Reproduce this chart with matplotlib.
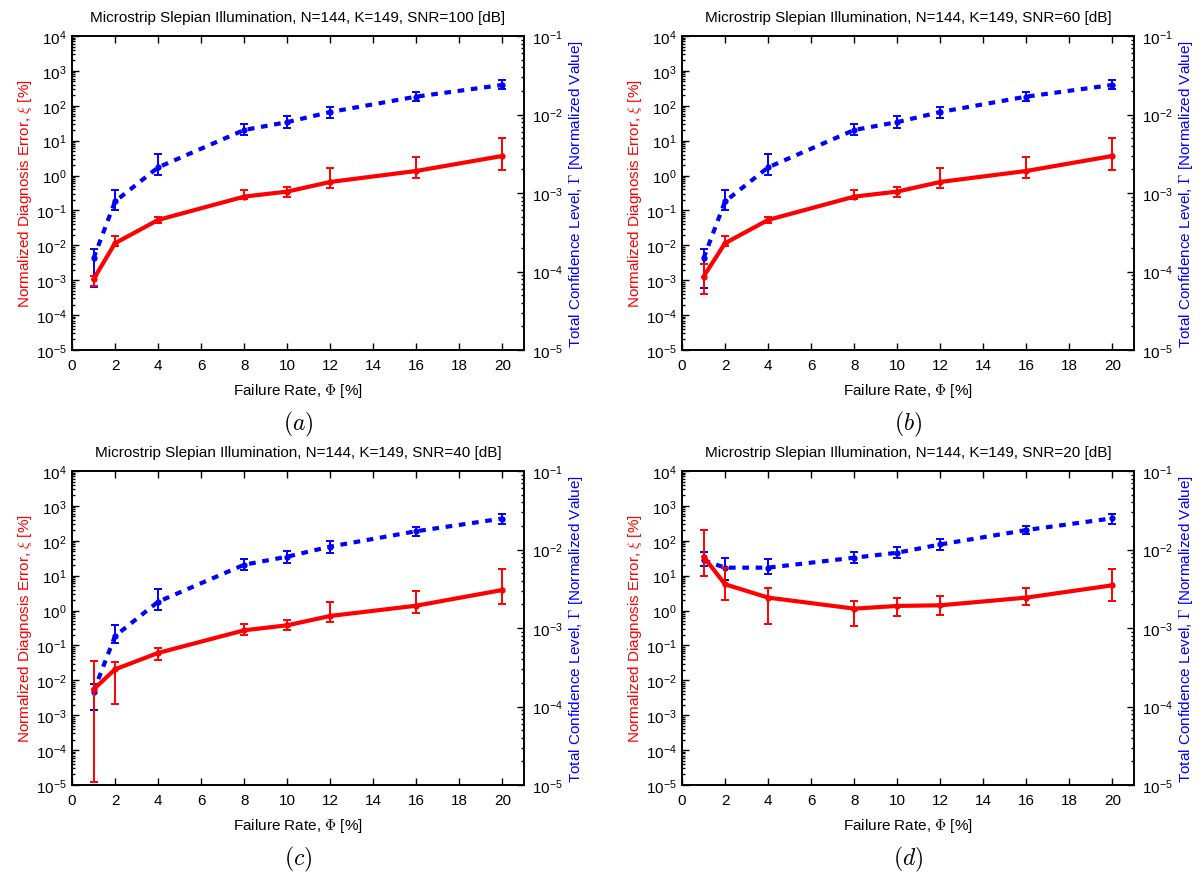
import numpy as np
import matplotlib
matplotlib.use("Agg")
import matplotlib.pyplot as plt
from matplotlib.ticker import LogLocator, NullFormatter, MultipleLocator

plt.rcParams['font.family'] = ['Liberation Sans', 'DejaVu Sans']
plt.rcParams['mathtext.fontset'] = 'cm'

# failure rate (x) shared by all panels
phi = [1, 2, 4, 8, 10, 12, 16, 20]

snr = [100, 60, 40, 20]
tags = ['a', 'b', 'c', 'd']

# normalized diagnosis error xi [%]: value, lower, upper
xi_a = [1.07e-3, 1.15e-2, 5.35e-2, 0.249, 0.347, 0.656, 1.355, 3.65]
xi_a_lo = [7.0e-4, 9.4e-3, 4.5e-2, 0.209, 0.249, 0.45, 0.835, 1.45]
xi_a_hi = [1.3e-3, 1.82e-2, 6.65e-2, 0.386, 0.471, 1.69, 3.48, 12.3]

xi_b = [1.27e-3, 1.15e-2, 5.35e-2, 0.249, 0.347, 0.656, 1.355, 3.65]
xi_b_lo = [3.96e-4, 9.4e-3, 4.5e-2, 0.209, 0.249, 0.45, 0.835, 1.45]
xi_b_hi = [2.87e-3, 1.9e-2, 6.65e-2, 0.386, 0.471, 1.69, 3.48, 12.3]

xi_c = [5.5e-3, 2.07e-2, 6.1e-2, 0.272, 0.378, 0.70, 1.38, 3.89]
xi_c_lo = [1.23e-5, 2.06e-3, 3.85e-2, 0.20, 0.272, 0.482, 0.835, 1.51]
xi_c_hi = [3.52e-2, 3.29e-2, 8.7e-2, 0.413, 0.526, 1.76, 3.65, 15.2]

xi_d = [35.1, 5.66, 2.35, 1.135, 1.355, 1.415, 2.35, 5.3]
xi_d_lo = [9.8, 2.01, 0.405, 0.37, 0.70, 0.76, 1.415, 1.85]
xi_d_hi = [200, 17.0, 4.44, 1.85, 2.25, 2.57, 4.44, 15.6]

# total confidence level gamma [normalized]: value, lower, upper
gam_a = [1.47e-4, 7.8e-4, 2.12e-3, 6.35e-3, 8.0e-3, 1.076e-2, 1.69e-2, 2.38e-2]
gam_a_lo = [6.4e-5, 6.1e-4, 1.68e-3, 5.53e-3, 6.7e-3, 9.0e-3, 1.49e-2, 2.09e-2]
gam_a_hi = [1.91e-4, 1.09e-3, 3.11e-3, 7.57e-3, 9.5e-3, 1.26e-2, 1.91e-2, 2.73e-2]

gam_b = [1.47e-4, 7.8e-4, 2.12e-3, 6.35e-3, 8.0e-3, 1.076e-2, 1.69e-2, 2.38e-2]
gam_b_lo = [6.2e-5, 6.1e-4, 1.68e-3, 5.53e-3, 6.7e-3, 9.0e-3, 1.49e-2, 2.09e-2]
gam_b_hi = [1.91e-4, 1.09e-3, 3.11e-3, 7.57e-3, 9.5e-3, 1.26e-2, 1.91e-2, 2.73e-2]

gam_c = [1.55e-4, 7.9e-4, 2.16e-3, 6.4e-3, 8.1e-3, 1.09e-2, 1.71e-2, 2.48e-2]
gam_c_lo = [9.0e-5, 6.4e-4, 1.68e-3, 5.53e-3, 6.8e-3, 9.1e-3, 1.5e-2, 2.14e-2]
gam_c_hi = [1.91e-4, 1.10e-3, 3.14e-3, 7.57e-3, 9.6e-3, 1.28e-2, 1.93e-2, 2.81e-2]

gam_d = [7.28e-3, 5.87e-3, 5.87e-3, 7.87e-3, 9.1e-3, 1.16e-2, 1.77e-2, 2.5e-2]
gam_d_lo = [6.17e-3, 4.13e-3, 4.92e-3, 6.67e-3, 7.87e-3, 9.95e-3, 1.56e-2, 2.14e-2]
gam_d_hi = [9.2e-3, 7.7e-3, 7.57e-3, 9.3e-3, 1.07e-2, 1.35e-2, 1.99e-2, 2.81e-2]

xi_all = [(xi_a, xi_a_lo, xi_a_hi), (xi_b, xi_b_lo, xi_b_hi),
          (xi_c, xi_c_lo, xi_c_hi), (xi_d, xi_d_lo, xi_d_hi)]
gam_all = [(gam_a, gam_a_lo, gam_a_hi), (gam_b, gam_b_lo, gam_b_hi),
           (gam_c, gam_c_lo, gam_c_hi), (gam_d, gam_d_lo, gam_d_hi)]

W, H = 1204, 879
fig = plt.figure(figsize=(W / 100, H / 100), dpi=100)

# axes boxes in pixels: left, top, right, bottom
boxes = [(72, 37, 524, 351), (682, 37, 1134, 351),
         (72, 472, 524, 786), (682, 472, 1134, 786)]


def yerr(v, lo, hi):
    v = np.array(v)
    return [v - np.array(lo), np.array(hi) - v]


for i, (l, t, r, b) in enumerate(boxes):
    ax = fig.add_axes([l / W, 1 - b / H, (r - l) / W, (b - t) / H])
    ax2 = ax.twinx()
    ax.set_zorder(ax2.get_zorder() + 1)
    ax.patch.set_visible(False)

    v, lo, hi = xi_all[i]
    ax.errorbar(phi, v, yerr=yerr(v, lo, hi), color='red', lw=3, marker='o', ms=3.5,
                elinewidth=1.4, capsize=2.8, capthick=1.4)
    v, lo, hi = gam_all[i]
    ax2.errorbar(phi, v, yerr=yerr(v, lo, hi), color='blue', lw=3, ls=(0, (1.6, 1.6)),
                 marker='o', ms=3.5, elinewidth=1.4, capsize=2.8, capthick=1.4)

    ax.set_xlim(0, 21)
    ax.set_yscale('log')
    ax.set_ylim(1e-5, 1e4)
    ax2.set_yscale('log')
    ax2.set_ylim(1e-5, 1e-1)
    ax.xaxis.set_major_locator(MultipleLocator(2))
    for a in (ax, ax2):
        a.yaxis.set_major_locator(LogLocator(base=10, numticks=20))
        a.yaxis.set_minor_locator(LogLocator(base=10, subs=np.arange(2, 10), numticks=100))
        a.yaxis.set_minor_formatter(NullFormatter())
        a.tick_params(which='both', direction='in', labelsize=11, width=1)
        a.tick_params(which='major', length=5)
        a.tick_params(which='minor', length=2.5)
        for s in a.spines.values():
            s.set_linewidth(1.2)
    ax.tick_params(axis='x', top=True, pad=6)
    ax.tick_params(axis='y', pad=4)
    ax2.tick_params(axis='y', pad=6)

    ax.set_title(f'Microstrip Slepian Illumination, N=144, K=149, SNR={snr[i]} [dB]',
                 fontsize=11, pad=11)
    ax.set_xlabel(r'Failure Rate, $\Phi$ [%]', fontsize=11, labelpad=6)
    ax.set_ylabel(r'Normalized Diagnosis Error, $\xi$ [%]', color='red', fontsize=11, labelpad=1)
    ax2.set_ylabel(r'Total Confidence Level, $\Gamma$ [Normalized Value]', color='blue',
                   fontsize=11, labelpad=3)

    fig.text((l + r) / 2 / W, 1 - (b + 73) / H, f'$({tags[i]})$', ha='center', va='center',
             fontsize=17)

fig.savefig('out.png', dpi=100)
